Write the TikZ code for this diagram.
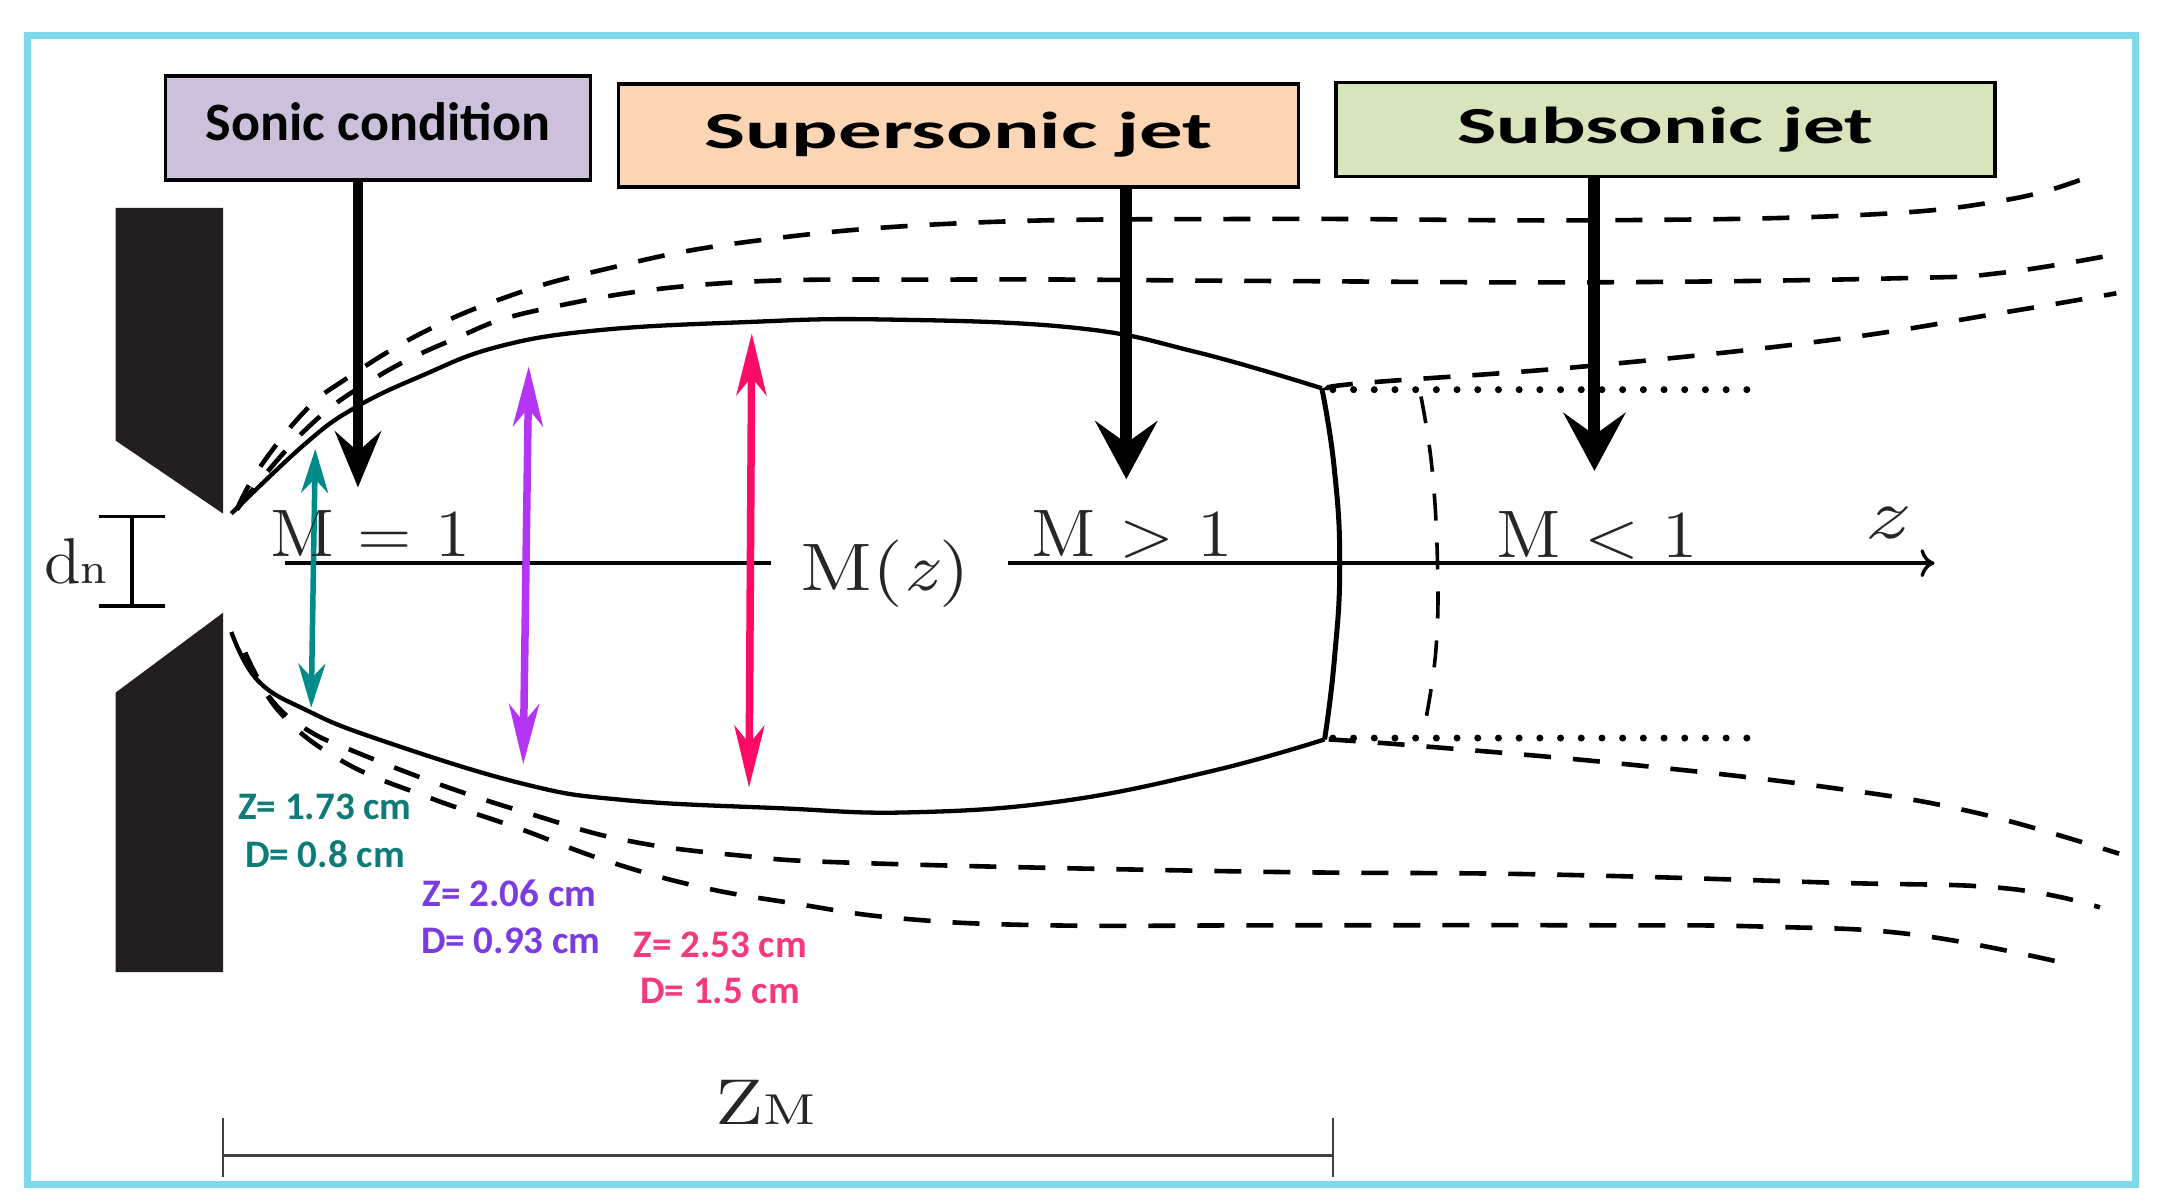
\documentclass[tikz,border=0pt]{standalone}
\usepackage{fontspec}
\usetikzlibrary{arrows.meta,calc}
\newfontfamily\carlito{Carlito}
\definecolor{frameblue}{HTML}{7FD9EA}
\definecolor{sonicfill}{HTML}{CCC0DA}
\definecolor{superfill}{HTML}{FCD5B5}
\definecolor{subfill}{HTML}{D7E4BC}
\definecolor{nozzle}{HTML}{231F20}
\definecolor{tealarrow}{HTML}{008B8B}
\definecolor{purplearrow}{HTML}{B535F5}
\definecolor{pinkarrow}{HTML}{FF0A64}
\definecolor{teallabel}{HTML}{0F7B78}
\definecolor{purplelabel}{HTML}{7A3BE0}
\definecolor{pinklabel}{HTML}{F5397F}
\newcommand{\boxfont}{\carlito\bfseries\fontsize{52}{56}\selectfont}
\newcommand{\serifbig}[3]{\scalebox{#1}[#2]{\fontsize{12}{14}\selectfont #3}}
\tikzset{
  regionbox/.style={draw=black,line width=3.5pt,inner sep=0pt,minimum height=#1},
  regionbox/.default=100pt,
  callout/.style={line width=9.5pt,-{Stealth[length=56pt,width=46pt,inset=20pt]}},
  calloutbig/.style={line width=12pt,-{Stealth[length=58pt,width=62pt,inset=22pt]}},
  tealsize/.style={line width=5.5pt,tealarrow,{Stealth[length=44pt,width=27pt,inset=14pt]}-{Stealth[length=44pt,width=27pt,inset=14pt]}},
  purplesize/.style={line width=7.5pt,purplearrow,{Stealth[length=60pt,width=30pt,inset=18pt]}-{Stealth[length=60pt,width=30pt,inset=18pt]}},
  pinksize/.style={line width=7.5pt,pinkarrow,{Stealth[length=62pt,width=30pt,inset=18pt]}-{Stealth[length=62pt,width=30pt,inset=18pt]}},
  jetdash/.style={line width=4.6pt,dash pattern=on 27pt off 22pt},
  jetsolid/.style={line width=4.3pt,line join=round},
  jetdot/.style={line width=7pt,dash pattern=on 0pt off 20.7pt,line cap=round},
  mathlabel/.style={inner sep=0pt,text=black!85},
  datalabel/.style={inner sep=0pt,font=\carlito\bfseries\fontsize{39}{44}\selectfont},
  axisline/.style={line width=3.4pt},
  dimline/.style={line width=2.6pt,black!75},
}
\begin{document}
\begin{tikzpicture}[x=1.377pt,y=-1.377pt]
\useasboundingbox (0,0) rectangle (1568,872.2);
\fill[white] (0,0) rectangle (1568,872.2);
\draw[frameblue,line width=7pt] (20,26) rectangle (1551,860);

% nozzle
\fill[nozzle] (84,151) -- (162,151) -- (162,373) -- (84,320) -- cycle;
\fill[nozzle] (162,445) -- (162,706) -- (84,706) -- (84,503) -- cycle;

% region boxes
\node[regionbox=104pt,fill=sonicfill,minimum width=425pt] (sonic) at (274.5,93) {\raisebox{13.5pt}{\scalebox{1.04}{\boxfont Sonic condition}}};
\node[regionbox=103pt,fill=superfill,minimum width=680pt] (super) at (696,98.5) {\raisebox{10pt}{\scalebox{1.67}[1]{\boxfont Supersonic jet}}};
\node[regionbox=94pt,fill=subfill,minimum width=659pt] (sub) at (1209.5,94) {\raisebox{9pt}{\scalebox{1.6}[1]{\boxfont Subsonic jet}}};

% jet boundary, solid
\draw[jetsolid] plot[smooth,tension=0.7] coordinates {(168,373) (222,322) (258,296) (306,273) (361,252) (433,240) (540,234) (640,232) (780,238) (870,256) (960,282)};
\draw[jetsolid] plot[smooth,tension=0.7] coordinates {(168,459) (187,494) (223,516) (275,537) (379,569) (453,581) (567,587) (660,590) (770,582) (880,560) (962,537)};
\draw[line width=5pt] plot[smooth,tension=0.8] coordinates {(960,282) (969,340) (973,410) (969,480) (962,537)};

% dashed streamlines, upper
\draw[jetdash] plot[smooth,tension=0.7] coordinates {(172,370) (189,339) (222,298) (250,276) (306,242) (367,216) (433,197) (540,176) (700,162) (918,159) (1160,160) (1354,156) (1458,145) (1515,129)};
\draw[jetdash] plot[smooth,tension=0.7] coordinates {(172,370) (222,312) (270,276) (328,247) (392,225) (520,206) (700,203) (912,204) (1160,205) (1383,202) (1455,198) (1535,185)};
\draw[jetdash] plot[smooth,tension=0.7] coordinates {(965,282) (992,278) (1152,266) (1329,247) (1455,227) (1537,213)};

% dashed streamlines, lower
\draw[jetdash] plot[smooth,tension=0.7] coordinates {(178,474) (197,508) (223,530) (258,546) (323,571) (388,592) (453,610) (534,621) (632,627) (908,633) (1118,635) (1329,641) (1455,645) (1525,659)};
\draw[jetdash] plot[smooth,tension=0.7] coordinates {(178,474) (203,517) (249,553) (311,579) (375,601) (440,625) (508,644) (576,656) (654,667) (760,672) (933,672) (1160,672) (1282,673) (1392,679) (1506,701)};
\draw[jetdash] plot[smooth,tension=0.7] coordinates {(965,537) (1034,542) (1181,555) (1329,572) (1434,590) (1539,620)};

% dotted lines and second front
\draw[jetdot] (968,283) -- (1270,283);
\draw[jetdot] (968,536) -- (1272,536);
\draw[line width=3.6pt,dash pattern=on 27pt off 22pt] plot[smooth,tension=0.7] coordinates {(1032,288) (1040,340) (1044,409) (1043,470) (1036,520)};

% axis
\coordinate (axisA) at (207,409);
\coordinate (axisB) at (560,409);
\coordinate (axisC) at (732,409);
\coordinate (axisD) at (1405,409);
\draw[axisline] (axisA) -- (axisB);
\draw[axisline,-{To[length=14pt,width=28pt,line width=3.4pt]}] (axisC) -- (axisD);

% callout arrows
\coordinate (tipA) at (260,354);
\coordinate (tipB) at (818,348);
\coordinate (tipC) at (1158,342);
\draw[callout] (sonic.south -| tipA) -- (tipA);
\draw[calloutbig] (super.south -| tipB) -- (tipB);
\draw[calloutbig] (sub.south -| tipC) -- (tipC);

% size arrows
\coordinate (tealTop) at (229,326);
\coordinate (tealBot) at (226,514);
\coordinate (purpTop) at (384,266);
\coordinate (purpBot) at (380,555);
\coordinate (pinkTop) at (546,242);
\coordinate (pinkBot) at (544,572);
\draw[tealsize] (tealTop) -- (tealBot);
\draw[purplesize] (purpTop) -- (purpBot);
\draw[pinksize] (pinkTop) -- (pinkBot);

% throat dimension
\coordinate (dnTop) at (96,375);
\coordinate (dnBot) at (96,440);
\draw[axisline] (dnTop) -- (dnBot);
\draw[axisline] ($(dnTop)+(-24,0)$) -- ($(dnTop)+(24,0)$);
\draw[axisline] ($(dnBot)+(-24,0)$) -- ($(dnBot)+(24,0)$);
\node[mathlabel,anchor=base] (dn) at (55,424) {\scalebox{5.6}[5.4]{\fontsize{12}{14}\selectfont d\fontsize{8}{9}\selectfont n}};

% z_M dimension
\coordinate (zmL) at (162,839);
\coordinate (zmR) at (968,839);
\draw[dimline] (zmL) -- (zmR);
\draw[dimline] ($(zmL)+(0,-27)$) -- ($(zmL)+(0,16)$);
\draw[dimline] ($(zmR)+(0,-27)$) -- ($(zmR)+(0,16)$);
\node[mathlabel,anchor=base] (zm) at (556,817) {\scalebox{6.7}[5.4]{\fontsize{12}{14}\selectfont Z\fontsize{8}{9}\selectfont M}};

% axis labels
\node[mathlabel,anchor=base] (m1) at (269,404.5) {\serifbig{5.95}{5.6}{M = 1}};
\node[mathlabel,anchor=base] (mz) at (643,429) {\serifbig{6.7}{5.6}{M(\textit{z})}};
\node[mathlabel,anchor=base] (mgt) at (822,404.5) {\serifbig{6}{5.6}{M > 1}};
\node[mathlabel,anchor=base] (mlt) at (1160,405) {\serifbig{6}{5.6}{M < 1}};
\node[mathlabel,anchor=base] (zax) at (1370,391) {\serifbig{8.2}{6}{\textit{z}}};

% data labels
\node[datalabel,text=teallabel] (tz) at (236,586) {Z= 1.73 cm};
\node[datalabel,text=teallabel] (td) at (236,620) {D= 0.8 cm};
\node[datalabel,text=purplelabel] (pz) at (370,649) {Z= 2.06 cm};
\node[datalabel,text=purplelabel] (pd) at (371,683) {D= 0.93 cm};
\node[datalabel,text=pinklabel] (kz) at (523,686) {Z= 2.53 cm};
\node[datalabel,text=pinklabel] (kd) at (523,720) {D= 1.5 cm};
\end{tikzpicture}
\end{document}
